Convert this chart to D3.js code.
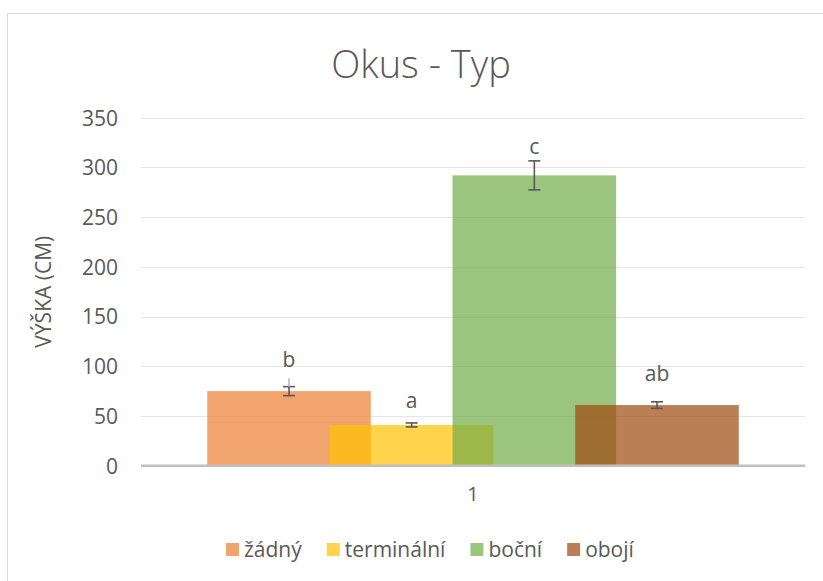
<!DOCTYPE html>
<html>
<head>
<meta charset="utf-8">
<script src="https://cdn.jsdelivr.net/npm/d3@7"></script>
<style>
  html, body { margin: 0; padding: 0; background: #fff; }
  svg { display: block; }
  text { font-family: "Open Sans", "Noto Sans", sans-serif; fill: #595959; }
</style>
</head>
<body>
<svg id="chart" width="823" height="581"></svg>
<script>
// Chart data
const categories = ["1"];
const seriesNames = ["žádný", "terminální", "boční", "obojí"];
const seriesColors = ["#ED7D31", "#FFC000", "#70AD47", "#9E480E"];
const heights = [75, 41, 292, 61];          // mean height (cm)
const errors = [4.5, 2, 14.6, 3.3];         // error bar half-length
const upperWhisker = [13, 0, 0, 0];         // faint extension above the orange cap
const letters = ["b", "a", "c", "ab"];      // significance groups
const letterPos = [99, 58, 313.5, 85];      // baseline of each letter (cm)
const yTicks = [0, 50, 100, 150, 200, 250, 300, 350];

const svg = d3.select("#chart");

// Frame
svg.append("rect")
  .attr("x", 7.5).attr("y", 13.5)
  .attr("width", 830).attr("height", 600)
  .attr("fill", "none").attr("stroke", "#D9D9D9").attr("stroke-width", 1);

// Plot area
const plot = { left: 141, right: 805, top: 117.7, bottom: 465.7 };

const y = d3.scaleLinear().domain([0, 350]).range([plot.bottom, plot.top]);
const xCat = d3.scaleBand().domain(categories).range([plot.left, plot.right]);

// Clustered bar geometry: 25% overlap, 81% gap width
const overlap = 0.25, gapWidth = 0.81;
const n = seriesNames.length;
const barW = xCat.bandwidth() / (1 + (n - 1) * (1 - overlap) + gapWidth);
const step = barW * (1 - overlap);
const groupW = barW + (n - 1) * step;
const barX = (c, i) => xCat(c) + (xCat.bandwidth() - groupW) / 2 + i * step;

// Gridlines
svg.append("g")
  .selectAll("line")
  .data(yTicks.filter(t => t > 0))
  .join("line")
  .attr("x1", plot.left).attr("x2", plot.right)
  .attr("y1", d => Math.round(y(d)) + 0.5).attr("y2", d => Math.round(y(d)) + 0.5)
  .attr("stroke", "#E6E6E6").attr("stroke-width", 1.2);

// Y tick labels
const yAxis = d3.axisLeft(y).tickValues(yTicks).tickSize(0).tickPadding(0);
const yg = svg.append("g").attr("transform", `translate(${plot.left - 23},0)`).call(yAxis);
yg.select(".domain").remove();
yg.selectAll("text")
  .attr("font-size", "21px")
  .style("font-family", "'Open Sans', sans-serif")
  .attr("fill", "#595959")
  .attr("dy", "0.35em");

// Bars
const bars = categories.flatMap(c => heights.map((v, i) => ({ c, i, v })));
svg.append("g")
  .selectAll("rect")
  .data(bars)
  .join("rect")
  .attr("x", d => barX(d.c, d.i))
  .attr("y", d => y(d.v))
  .attr("width", barW)
  .attr("height", d => y(0) - y(d.v))
  .attr("fill", d => seriesColors[d.i])
  .attr("fill-opacity", 0.7);

// Baseline axis
svg.append("line")
  .attr("x1", plot.left).attr("x2", plot.right)
  .attr("y1", y(0)).attr("y2", y(0))
  .attr("stroke", "#BFBFBF").attr("stroke-width", 2.6);

// Error bars
const eb = svg.append("g").attr("stroke", "#595959").attr("stroke-width", 1.6);
const capW = 12;
bars.forEach(d => {
  const cx = barX(d.c, d.i) + barW / 2;
  const e = errors[d.i];
  if (upperWhisker[d.i] > 0) {
    svg.append("line")
      .attr("x1", cx).attr("x2", cx)
      .attr("y1", y(d.v + e)).attr("y2", y(d.v + upperWhisker[d.i]))
      .attr("stroke", "#B0B0B0").attr("stroke-width", 1.4);
  }
  eb.append("line").attr("x1", cx).attr("x2", cx).attr("y1", y(d.v - e)).attr("y2", y(d.v + e));
  eb.append("line").attr("x1", cx - capW / 2).attr("x2", cx + capW / 2).attr("y1", y(d.v - e)).attr("y2", y(d.v - e));
  eb.append("line").attr("x1", cx - capW / 2).attr("x2", cx + capW / 2).attr("y1", y(d.v + e)).attr("y2", y(d.v + e));
});

// Significance letters
svg.append("g")
  .selectAll("text")
  .data(bars)
  .join("text")
  .attr("x", d => barX(d.c, d.i) + barW / 2)
  .attr("y", d => y(letterPos[d.i]))
  .attr("text-anchor", "middle")
  .attr("font-size", "21px")
  .text(d => letters[d.i]);

// Category label
const xAxis = d3.axisBottom(xCat).tickSize(0).tickPadding(0);
const xg = svg.append("g").attr("transform", `translate(0,${plot.bottom + 21})`).call(xAxis);
xg.select(".domain").remove();
xg.selectAll("text")
  .attr("font-size", "20px")
  .style("font-family", "'Open Sans', sans-serif")
  .attr("fill", "#595959")
  .attr("dy", "0.71em");

// Title
svg.append("text")
  .attr("x", 421).attr("y", 78)
  .attr("text-anchor", "middle")
  .attr("font-size", "38px")
  .attr("font-weight", 300)
  .text("Okus - Typ");

// Y axis title
svg.append("text")
  .attr("transform", `translate(51,${(plot.top + plot.bottom) / 2}) rotate(-90)`)
  .attr("text-anchor", "middle")
  .attr("font-size", "21px")
  .text("VÝŠKA (CM)");

// Legend: items laid out left to right from measured text widths
const lg = svg.append("g");
let lx = 226;
seriesNames.forEach((name, i) => {
  lg.append("rect")
    .attr("x", lx).attr("y", 543)
    .attr("width", 13).attr("height", 13)
    .attr("fill", seriesColors[i]).attr("fill-opacity", 0.7);
  const t = lg.append("text")
    .attr("x", lx + 18).attr("y", 557)
    .attr("font-size", "21px")
    .text(name);
  lx += 18 + t.node().getComputedTextLength() + 25;
});
</script>
</body>
</html>
